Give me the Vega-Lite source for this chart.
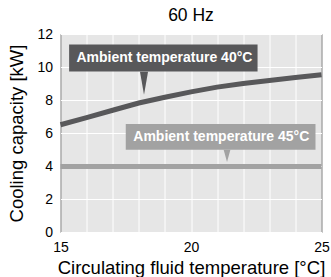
{
  "$schema": "https://vega.github.io/schema/vega-lite/v6.json",
  "autosize": "none",
  "width": 261,
  "height": 198,
  "padding": {"left": 60.5, "top": 34, "right": 9.5, "bottom": 45},
  "background": "white",
  "title": {"text": "60 Hz", "fontSize": 17.5, "fontWeight": "normal", "font": "Liberation Sans", "color": "black", "offset": 3},
  "config": {
    "view": {"fill": "#e6e6e6", "stroke": "black", "strokeWidth": 1},
    "axis": {
      "grid": true, "gridColor": "white", "gridWidth": 1, "gridOpacity": 1,
      "domain": false, "ticks": false, "labelOverlap": false, "labelFlush": false,
      "labelFont": "Liberation Sans", "labelFontSize": 14, "labelColor": "black",
      "titleFont": "Liberation Sans", "titleFontSize": 18.5, "titleFontWeight": "normal", "titleColor": "black",
      "labelPadding": 8
    }
  },
  "datasets": {
    "lines": [
      {"fluid": 15, "capacity": 6.5, "ambient": "40"},
      {"fluid": 16, "capacity": 6.93, "ambient": "40"},
      {"fluid": 17, "capacity": 7.38, "ambient": "40"},
      {"fluid": 18, "capacity": 7.82, "ambient": "40"},
      {"fluid": 19, "capacity": 8.17, "ambient": "40"},
      {"fluid": 20, "capacity": 8.49, "ambient": "40"},
      {"fluid": 21, "capacity": 8.78, "ambient": "40"},
      {"fluid": 22, "capacity": 9.0, "ambient": "40"},
      {"fluid": 23, "capacity": 9.18, "ambient": "40"},
      {"fluid": 24, "capacity": 9.36, "ambient": "40"},
      {"fluid": 25, "capacity": 9.53, "ambient": "40"},
      {"fluid": 15, "capacity": 3.97, "ambient": "45"},
      {"fluid": 25, "capacity": 3.97, "ambient": "45"}
    ],
    "callouts": [
      {"ambient": "40", "label": "Ambient temperature 40°C", "x1": 15.33, "x2": 22.55, "y1": 9.72, "y2": 11.36, "tx": 18.98, "ty": 10.53, "px": 18.2, "py": 9.02},
      {"ambient": "45", "label": "Ambient temperature 45°C", "x1": 17.5, "x2": 24.77, "y1": 4.98, "y2": 6.55, "tx": 21.16, "ty": 5.75, "px": 21.38, "py": 4.62}
    ]
  },
  "layer": [
    {
      "data": {"name": "lines"},
      "mark": {"type": "line", "strokeWidth": 5},
      "encoding": {
        "x": {"field": "fluid", "type": "quantitative", "scale": {"domain": [15, 25], "nice": false, "zero": false},
          "axis": {"values": [15, 16, 17, 18, 19, 20, 21, 22, 23, 24, 25], "labelExpr": "datum.value % 5 === 0 ? datum.label : ''", "title": "Circulating fluid temperature [°C]", "titlePadding": 4}},
        "y": {"field": "capacity", "type": "quantitative", "scale": {"domain": [0, 12], "nice": false},
          "axis": {"values": [0, 2, 4, 6, 8, 10, 12], "title": "Cooling capacity [kW]", "titlePadding": 10}},
        "color": {"field": "ambient", "type": "nominal", "scale": {"domain": ["40", "45"], "range": ["#58585a", "#a2a2a2"]}, "legend": null}
      }
    },
    {
      "data": {"name": "callouts"},
      "mark": {"type": "rect"},
      "encoding": {
        "x": {"field": "x1", "type": "quantitative",
          "axis": {"values": [15, 16, 17, 18, 19, 20, 21, 22, 23, 24, 25], "labelExpr": "datum.value % 5 === 0 ? datum.label : ''", "title": "Circulating fluid temperature [°C]", "titlePadding": 4}},
        "x2": {"field": "x2"},
        "y": {"field": "y1", "type": "quantitative",
          "axis": {"values": [0, 2, 4, 6, 8, 10, 12], "title": "Cooling capacity [kW]", "titlePadding": 10}},
        "y2": {"field": "y2"},
        "color": {"field": "ambient", "type": "nominal", "legend": null}
      }
    },
    {
      "data": {"name": "callouts"},
      "mark": {"type": "point", "filled": true, "opacity": 1, "strokeWidth": 0},
      "encoding": {
        "x": {"field": "px", "type": "quantitative",
          "axis": {"values": [15, 16, 17, 18, 19, 20, 21, 22, 23, 24, 25], "labelExpr": "datum.value % 5 === 0 ? datum.label : ''", "title": "Circulating fluid temperature [°C]", "titlePadding": 4}},
        "y": {"field": "py", "type": "quantitative",
          "axis": {"values": [0, 2, 4, 6, 8, 10, 12], "title": "Cooling capacity [kW]", "titlePadding": 10}},
        "shape": {"field": "ambient", "type": "nominal", "scale": {"domain": ["40", "45"], "range": ["M-0.35,-1L0.35,-1L0,1Z", "M-0.55,-1L0.55,-1L0,1Z"]}, "legend": null},
        "size": {"field": "ambient", "type": "nominal", "scale": {"domain": ["40", "45"], "range": [529, 150]}, "legend": null},
        "color": {"field": "ambient", "type": "nominal", "legend": null}
      }
    },
    {
      "data": {"name": "callouts"},
      "mark": {"type": "text", "color": "white", "fontWeight": "bold", "fontSize": 14, "font": "Liberation Sans", "baseline": "middle", "align": "center"},
      "encoding": {
        "x": {"field": "tx", "type": "quantitative",
          "axis": {"values": [15, 16, 17, 18, 19, 20, 21, 22, 23, 24, 25], "labelExpr": "datum.value % 5 === 0 ? datum.label : ''", "title": "Circulating fluid temperature [°C]", "titlePadding": 4}},
        "y": {"field": "ty", "type": "quantitative",
          "axis": {"values": [0, 2, 4, 6, 8, 10, 12], "title": "Cooling capacity [kW]", "titlePadding": 10}},
        "text": {"field": "label"}
      }
    }
  ]
}
